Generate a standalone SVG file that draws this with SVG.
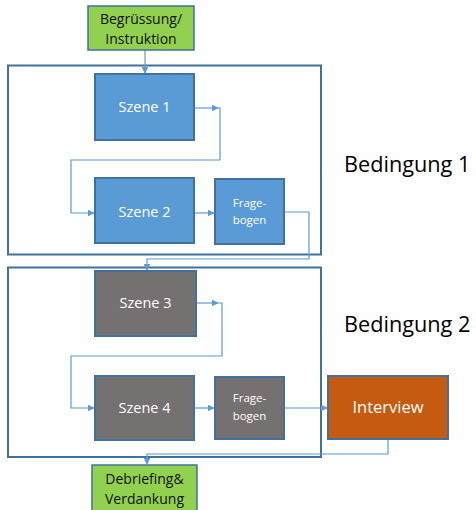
<svg xmlns="http://www.w3.org/2000/svg" width="476" height="510" viewBox="0 0 476 510">
  <style>
    .frame { fill: none; stroke: #41719C; stroke-width: 2; }
    .blue { fill: #5B9BD5; stroke: #41719C; stroke-width: 2; }
    .gray { fill: #767171; stroke: #41719C; stroke-width: 2; }
    .orange { fill: #C55A11; stroke: #41719C; stroke-width: 2; }
    .green { fill: #92D050; stroke: #41719C; stroke-width: 1.5; }
    .lbl { font-family: "Open Sans", "Liberation Sans", sans-serif; fill: #ffffff; text-anchor: middle; }
    .dark { font-family: "Open Sans", "Liberation Sans", sans-serif; fill: #111111; text-anchor: middle; }
    .cond { font-family: "Open Sans", "Liberation Sans", sans-serif; fill: #000000; font-size: 21.7px; }
    .conn { fill: none; stroke: #5B9BD5; stroke-width: 1.2; }
  </style>
  <defs>
    <marker id="arrow" viewBox="0 0 10 10" refX="9" refY="5" markerWidth="7" markerHeight="7" orient="auto" markerUnits="userSpaceOnUse">
      <path d="M0,0 L10,5 L0,10 z" fill="#5B9BD5"/>
    </marker>
  </defs>

  <rect width="476" height="510" fill="#ffffff"/>

  <!-- condition frames -->
  <g id="frame1"><rect class="frame" x="8" y="65.5" width="313" height="189"/></g>
  <g id="frame2"><rect class="frame" x="8" y="267.5" width="313" height="189.5"/></g>

  <g id="label-bedingung1"><text class="cond" x="344" y="172">Bedingung 1</text></g>
  <g id="label-bedingung2"><text class="cond" x="344" y="332">Bedingung 2</text></g>

  <!-- connectors -->
  <g id="connectors">
    <path class="conn" d="M145,50 L145,73" marker-end="url(#arrow)"/>
    <path class="conn" d="M194,108 L218,108" marker-end="url(#arrow)"/>
    <path class="conn" d="M218,108 L220,108 L220,160 L71,160 L71,213 L94,213" marker-end="url(#arrow)"/>
    <path class="conn" d="M194,213 L214,213" marker-end="url(#arrow)"/>
    <path class="conn" d="M284,212 L309,212 L309,259 L147,259 L147,270" marker-end="url(#arrow)"/>
    <path class="conn" d="M196,303 L218,303" marker-end="url(#arrow)"/>
    <path class="conn" d="M218,303 L222,303 L222,356 L71,356 L71,408 L94,408" marker-end="url(#arrow)"/>
    <path class="conn" d="M194,408 L214,408" marker-end="url(#arrow)"/>
    <path class="conn" d="M284,408 L327,408" marker-end="url(#arrow)"/>
    <path class="conn" d="M388,440 L388,454 L147,454 L147,464" marker-end="url(#arrow)"/>
  </g>

  <g id="begruessung">
    <rect class="green" x="88" y="6" width="106" height="44"/>
    <text class="dark" font-size="14" x="141" y="24">Begrüssung/</text>
    <text class="dark" font-size="14" x="141" y="44">Instruktion</text>
  </g>

  <g id="szene1">
    <rect class="blue" x="95" y="74" width="99" height="66"/>
    <text class="lbl" font-size="14.5" x="144.5" y="112">Szene 1</text>
  </g>
  <g id="szene2">
    <rect class="blue" x="95" y="178" width="99" height="65"/>
    <text class="lbl" font-size="14.5" x="144.5" y="217">Szene 2</text>
  </g>
  <g id="fragebogen1">
    <rect class="blue" x="215" y="179" width="69" height="65"/>
    <text class="lbl" font-size="11.5" x="249.5" y="207">Frage-</text>
    <text class="lbl" font-size="11.5" x="249.5" y="224">bogen</text>
  </g>

  <g id="szene3">
    <rect class="gray" x="95" y="271" width="101" height="65"/>
    <text class="lbl" font-size="14.5" x="145.5" y="308">Szene 3</text>
  </g>
  <g id="szene4">
    <rect class="gray" x="95" y="376" width="99" height="64"/>
    <text class="lbl" font-size="14.5" x="144.5" y="413">Szene 4</text>
  </g>
  <g id="fragebogen2">
    <rect class="gray" x="215" y="377" width="69" height="62"/>
    <text class="lbl" font-size="11.5" x="249.5" y="402">Frage-</text>
    <text class="lbl" font-size="11.5" x="249.5" y="420">bogen</text>
  </g>

  <g id="interview">
    <rect class="orange" x="328" y="376" width="120" height="63"/>
    <text class="lbl" font-size="16.5" x="388" y="413">Interview</text>
  </g>

  <g id="debriefing">
    <rect class="green" x="92" y="465" width="105" height="50"/>
    <text class="dark" font-size="14" x="144.5" y="484">Debriefing&amp;</text>
    <text class="dark" font-size="14" x="144.5" y="504">Verdankung</text>
  </g>
</svg>
